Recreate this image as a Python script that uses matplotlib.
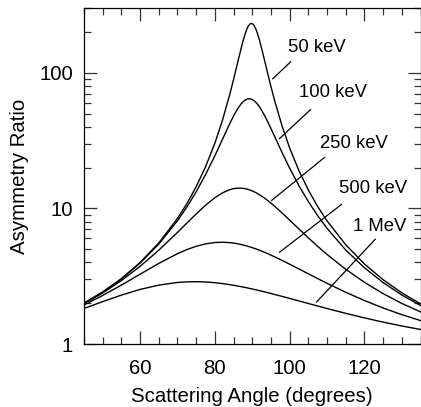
import matplotlib
matplotlib.use("Agg")
import matplotlib.pyplot as plt
from matplotlib.ticker import FixedLocator, NullFormatter

plt.rcParams['font.family'] = ['Liberation Sans', 'DejaVu Sans']

angles = [45, 50, 55, 60, 65, 70, 72.5, 75, 77.5, 80, 82, 84, 85, 86, 87, 87.5, 88, 88.5,
          89, 89.5, 90, 90.5, 91, 91.5, 92, 93, 94, 95, 96, 98, 100, 102.5, 105, 107.5,
          110, 115, 120, 125, 130, 135]

r_50keV = [1.999, 2.418, 3.034, 3.986, 5.56, 8.425, 10.82, 14.44, 20.23, 30.23, 44.31, 69.42,
           89.15, 115.9, 150.4, 170, 189.7, 207.9, 222.1, 230.1, 230.3, 222.7, 208.8, 190.8,
           171, 133.2, 102.3, 79.08, 62.07, 40.29, 27.89, 18.92, 13.65, 10.32, 8.087, 5.39,
           3.891, 2.978, 2.383, 1.977]
r_100keV = [1.997, 2.412, 3.02, 3.949, 5.456, 8.103, 10.22, 13.25, 17.71, 24.42, 32.12, 42.23,
            47.96, 53.7, 58.83, 60.93, 62.58, 63.7, 64.24, 64.15, 63.44, 62.17, 60.38, 58.18,
            55.66, 50.07, 44.29, 38.8, 33.82, 25.71, 19.79, 14.67, 11.22, 8.825, 7.12, 4.932,
            3.647, 2.837, 2.297, 1.923]
r_250keV = [1.982, 2.377, 2.934, 3.737, 4.917, 6.654, 7.786, 9.097, 10.54, 11.98, 12.99, 13.74,
            13.97, 14.09, 14.09, 14.05, 13.98, 13.89, 13.76, 13.61, 13.44, 13.25, 13.04, 12.81,
            12.57, 12.05, 11.5, 10.93, 10.36, 9.234, 8.191, 7.038, 6.061, 5.247, 4.574, 3.556,
            2.85, 2.352, 1.991, 1.725]
r_500keV = [1.94, 2.28, 2.719, 3.27, 3.927, 4.633, 4.965, 5.252, 5.471, 5.599, 5.627, 5.589,
            5.546, 5.488, 5.416, 5.376, 5.332, 5.286, 5.237, 5.186, 5.133, 5.078, 5.021, 4.962,
            4.902, 4.779, 4.652, 4.522, 4.392, 4.132, 3.877, 3.574, 3.293, 3.036, 2.803, 2.407,
            2.093, 1.843, 1.646, 1.489]
r_1MeV = [1.827, 2.054, 2.293, 2.525, 2.717, 2.842, 2.872, 2.88, 2.866, 2.831, 2.79, 2.739,
          2.71, 2.68, 2.648, 2.631, 2.614, 2.597, 2.58, 2.562, 2.544, 2.526, 2.508, 2.489,
          2.471, 2.433, 2.395, 2.357, 2.319, 2.243, 2.168, 2.077, 1.989, 1.906, 1.827, 1.683,
          1.558, 1.45, 1.358, 1.28]

series = [r_50keV, r_100keV, r_250keV, r_500keV, r_1MeV]
labels = ["50 keV", "100 keV", "250 keV", "500 keV", "1 MeV"]
# label text position and leader line (start, end) in data coordinates
label_pos = [(107.2, 152.7), (111.7, 71.3), (117.2, 30.0), (122.3, 14.0), (124.1, 7.37)]
leader_start = [(100.3, 120.5), (105.6, 53.5), (109.3, 23.7), (113.9, 10.7), (122.9, 5.92)]
leader_end = [(95.5, 90.3), (97.3, 32.7), (95.2, 11.45), (97.3, 4.75), (107.2, 2.04)]

xticks = [60, 80, 100, 120]
yticks = [1, 10, 100]
ytick_labels = ["1", "10", "100"]

fig = plt.figure(figsize=(4.21, 4.07), dpi=100)
ax = fig.add_axes([84 / 421, 63 / 407, (420.5 - 84) / 421, (344 - 8) / 407])

for s in series:
    ax.plot(angles, s, color="black", lw=1.0)

for lab, tp, ls, le in zip(labels, label_pos, leader_start, leader_end):
    ax.text(tp[0], tp[1], lab, fontsize=13.3, ha="center", va="center")
    ax.plot([ls[0], le[0]], [ls[1], le[1]], color="black", lw=0.9)

ax.set_yscale("log")
ax.set_xlim(45, 135)
ax.set_ylim(1, 300)
ax.set_xticks(xticks)
ax.xaxis.set_minor_locator(FixedLocator(list(range(45, 136, 5))))
ax.set_yticks(yticks)
ax.set_yticklabels(ytick_labels)
minor_y = [m * d for d in (1, 10, 100) for m in range(2, 10) if m * d <= 300]
ax.yaxis.set_minor_locator(FixedLocator(minor_y))
ax.yaxis.set_minor_formatter(NullFormatter())
ax.tick_params(which="both", direction="in", top=True, right=True, labelsize=14.7,
               width=0.9, color="#333333")
ax.tick_params(axis="x", which="major", pad=10.5)
ax.tick_params(axis="y", which="major", pad=8)
ax.tick_params(which="major", length=9.4)
ax.tick_params(which="minor", length=4.7)
for sp in ax.spines.values():
    sp.set_linewidth(0.9)

ax.set_xlabel("Scattering Angle (degrees)", fontsize=14.7, labelpad=6.5)
ax.set_ylabel("Asymmetry Ratio", fontsize=14.7, labelpad=7)

fig.savefig("out.png", dpi=100)
